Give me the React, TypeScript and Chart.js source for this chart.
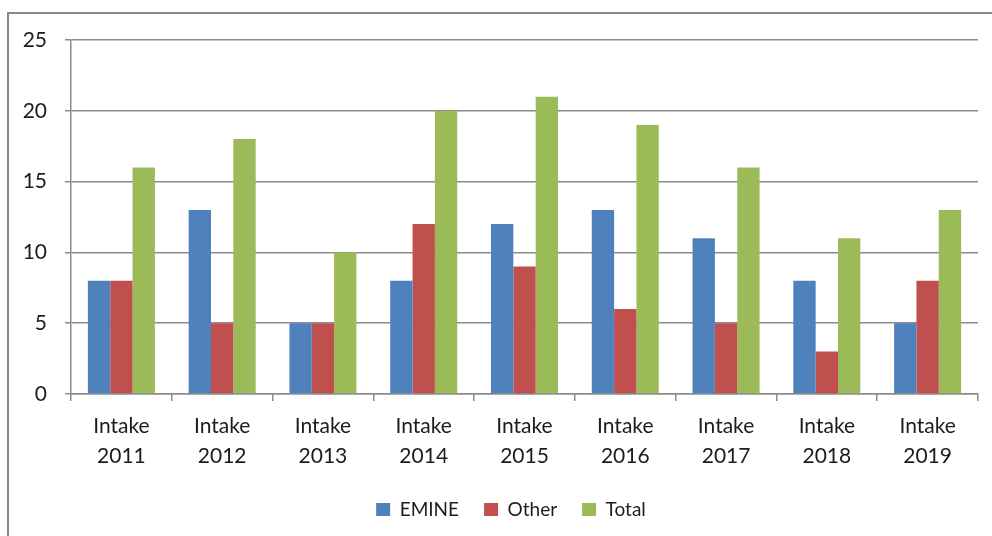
import { useEffect, useRef } from "react";
import { Chart, registerables } from "chart.js";

Chart.register(...registerables);

const categories: string[][] = [
  ["Intake", "2011"], ["Intake", "2012"], ["Intake", "2013"], ["Intake", "2014"], ["Intake", "2015"],
  ["Intake", "2016"], ["Intake", "2017"], ["Intake", "2018"], ["Intake", "2019"],
];
const emine = [8, 13, 5, 8, 12, 13, 11, 8, 5];
const other = [8, 5, 5, 12, 9, 6, 5, 3, 8];
const total = [16, 18, 10, 20, 21, 19, 16, 11, 13];
const yMin = 0;
const yMax = 25;
const yStep = 5;

const FONT = "Lato, 'Noto Sans', sans-serif";
const TEXT = "#1c1c1c";
const GRID = "#8c8c8c";

const shiftLegend = {
  id: "shiftLegend",
  afterLayout(chart: any) {
    const lg = chart.legend;
    if (lg) {
      lg.left += 22;
      lg.right += 22;
    }
  },
};

export default function App() {
  const ref = useRef<HTMLCanvasElement | null>(null);
  useEffect(() => {
    if (!ref.current) return;
    document.body.style.overflow = "hidden";
    const chart = new Chart(ref.current, {
      type: "bar",
      data: {
        labels: categories,
        datasets: [
          { label: "EMINE", data: emine, backgroundColor: "#4F81BD" },
          { label: "Other", data: other, backgroundColor: "#C0504D" },
          { label: "Total", data: total, backgroundColor: "#9BBB59" },
        ],
      },
      plugins: [shiftLegend],
      options: {
        responsive: false,
        animation: false,
        devicePixelRatio: 1,
        datasets: { bar: { categoryPercentage: 0.665, barPercentage: 1 } },
        layout: { padding: { top: 40, right: 14, bottom: 0, left: 0 } },
        plugins: {
          tooltip: { enabled: false },
          legend: {
            position: "bottom",
            labels: {
              font: { family: FONT, size: 19 },
              color: TEXT,
              boxWidth: 14,
              boxHeight: 13,
              padding: 25,
            },
          },
        },
        scales: {
          x: {
            grid: { offset: true, drawOnChartArea: false, tickLength: 7, color: GRID, lineWidth: 1.5 },
            border: { color: GRID, width: 1.5 },
            ticks: { font: { family: FONT, size: 21, lineHeight: 1.45 }, color: TEXT, padding: 10, maxRotation: 0 },
            afterFit: (s: any) => { s.height = 81; },
          },
          y: {
            min: yMin,
            max: yMax,
            ticks: { stepSize: yStep, font: { family: FONT, size: 21 }, color: TEXT, padding: 18 },
            grid: { color: GRID, lineWidth: 1.5, tickLength: 6 },
            border: { color: GRID, width: 1.5 },
            afterFit: (s: any) => { s.width = 71; },
          },
        },
      },
    });
    return () => chart.destroy();
  }, []);
  return (
    <div style={{ position: "fixed", left: 0, top: 0, width: 992, height: 536, overflow: "hidden", background: "#fff" }}>
      <div style={{ position: "absolute", left: 7, top: 12, width: 1100, height: 700, border: "2px solid #888" }} />
      <canvas ref={ref} width={992} height={529} style={{ position: "absolute", left: 0, top: 0, width: 992, height: 529 }} />
    </div>
  );
}
